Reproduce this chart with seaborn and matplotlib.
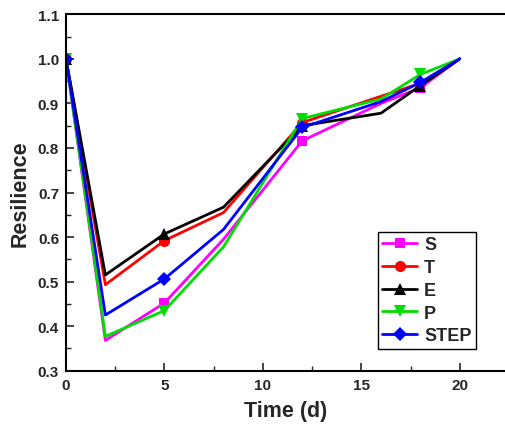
import numpy as np
import pandas as pd
import matplotlib
matplotlib.use("Agg")
import matplotlib.pyplot as plt
import seaborn as sns
from matplotlib.ticker import MultipleLocator

# ---- data ----
time_d = [0, 2, 5, 8, 12, 16, 18, 20]
S = [1.0, 0.368, 0.452, 0.595, 0.816, 0.900, 0.935, 1.0]
T = [1.0, 0.493, 0.592, 0.655, 0.857, 0.916, 0.945, 1.0]
E = [1.0, 0.515, 0.607, 0.667, 0.850, 0.878, 0.940, 1.0]
P = [1.0, 0.377, 0.435, 0.578, 0.866, 0.910, 0.965, 1.0]
STEP = [1.0, 0.425, 0.506, 0.617, 0.846, 0.904, 0.947, 1.0]
series_names = ["S", "T", "E", "P", "STEP"]
series_vals = [S, T, E, P, STEP]

colors = ["#FF00FF", "#FF0000", "#000000", "#00DD00", "#0000FF"]
markers = ["s", "o", "^", "v", "D"]
msizes = [7, 8, 8, 8, 7]

sns.set_style("ticks")
plt.rcParams["font.family"] = ["Liberation Sans", "DejaVu Sans"]
plt.rcParams["font.weight"] = "bold"

fig = plt.figure(figsize=(5.05, 4.31), dpi=100)
ax = fig.add_axes([66 / 505, 59.3 / 431, 1 - 66 / 505, 356.4 / 431])

for name, vals, c, m, ms in zip(series_names, series_vals, colors, markers, msizes):
    df = pd.DataFrame({"t": time_d, "r": vals})
    sns.lineplot(data=df, x="t", y="r", ax=ax, color=c, marker=m, markersize=ms,
                 markeredgewidth=0, markevery=2, linewidth=2.0, label=name)

ax.set_xlim(0, 22.3)
ax.set_ylim(0.3, 1.1)
ax.xaxis.set_major_locator(MultipleLocator(5))
ax.xaxis.set_minor_locator(MultipleLocator(2.5))
ax.yaxis.set_major_locator(MultipleLocator(0.1))
ax.yaxis.set_minor_locator(MultipleLocator(0.05))
ax.yaxis.set_major_formatter(matplotlib.ticker.FormatStrFormatter("%.1f"))
ax.tick_params(which="major", direction="in", length=6, width=1.2, labelsize=11, pad=5)
ax.tick_params(which="minor", direction="in", length=3.5, width=1.0)
for lab in ax.get_xticklabels() + ax.get_yticklabels():
    lab.set_fontweight("bold")

for sp in ["left", "bottom", "top"]:
    ax.spines[sp].set_linewidth(1.5)
    ax.spines[sp].set_color("black")
ax.spines["right"].set_visible(False)

ax.set_xlabel("Time (d)", fontsize=15.5, fontweight="bold", labelpad=6)
ax.set_ylabel("Resilience", fontsize=15.5, fontweight="bold", labelpad=5)

leg = ax.legend(loc="lower right", bbox_to_anchor=(0.934, 0.061), borderaxespad=0,
                frameon=True, fancybox=False, edgecolor="black", framealpha=1,
                prop={"weight": "bold", "size": 13}, handlelength=1.9,
                handletextpad=0.4, labelspacing=0.32, borderpad=0.25)
leg.get_frame().set_linewidth(1.0)

fig.savefig("out.png", dpi=100)
